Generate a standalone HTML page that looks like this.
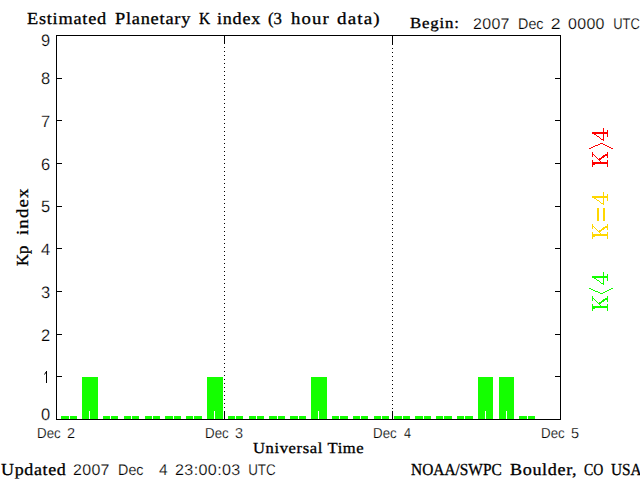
<!DOCTYPE html>
<html><head><meta charset="utf-8"><style>
html,body{margin:0;padding:0;background:#fff;width:640px;height:480px;overflow:hidden}
svg{display:block}
text{text-rendering:geometricPrecision;fill:#000}
.sb{font-family:"Liberation Serif",serif;font-weight:bold}
.sr{font-family:"Liberation Serif",serif;stroke:#000;stroke-width:0.3px}
.ss{font-family:"Liberation Sans",sans-serif;stroke:#fff;stroke-width:0.2px}
</style></head><body>
<svg width="640" height="480" viewBox="0 0 640 480">
<rect x="0" y="0" width="640" height="480" fill="#fff"/>
<g shape-rendering="crispEdges">
<rect x="61" y="416" width="8" height="3" fill="#14ff00"/>
<rect x="70" y="416" width="7" height="3" fill="#14ff00"/>
<rect x="103" y="416" width="7" height="3" fill="#14ff00"/>
<rect x="111" y="416" width="7" height="3" fill="#14ff00"/>
<rect x="124" y="416" width="7" height="3" fill="#14ff00"/>
<rect x="132" y="416" width="7" height="3" fill="#14ff00"/>
<rect x="145" y="416" width="7" height="3" fill="#14ff00"/>
<rect x="153" y="416" width="7" height="3" fill="#14ff00"/>
<rect x="165" y="416" width="8" height="3" fill="#14ff00"/>
<rect x="174" y="416" width="7" height="3" fill="#14ff00"/>
<rect x="186" y="416" width="7" height="3" fill="#14ff00"/>
<rect x="194" y="416" width="8" height="3" fill="#14ff00"/>
<rect x="228" y="416" width="7" height="3" fill="#14ff00"/>
<rect x="236" y="416" width="7" height="3" fill="#14ff00"/>
<rect x="249" y="416" width="7" height="3" fill="#14ff00"/>
<rect x="257" y="416" width="7" height="3" fill="#14ff00"/>
<rect x="269" y="416" width="8" height="3" fill="#14ff00"/>
<rect x="278" y="416" width="7" height="3" fill="#14ff00"/>
<rect x="290" y="416" width="8" height="3" fill="#14ff00"/>
<rect x="299" y="416" width="7" height="3" fill="#14ff00"/>
<rect x="332" y="416" width="7" height="3" fill="#14ff00"/>
<rect x="340" y="416" width="8" height="3" fill="#14ff00"/>
<rect x="353" y="416" width="7" height="3" fill="#14ff00"/>
<rect x="361" y="416" width="7" height="3" fill="#14ff00"/>
<rect x="374" y="416" width="7" height="3" fill="#14ff00"/>
<rect x="382" y="416" width="7" height="3" fill="#14ff00"/>
<rect x="394" y="416" width="8" height="3" fill="#14ff00"/>
<rect x="403" y="416" width="7" height="3" fill="#14ff00"/>
<rect x="415" y="416" width="8" height="3" fill="#14ff00"/>
<rect x="424" y="416" width="7" height="3" fill="#14ff00"/>
<rect x="436" y="416" width="7" height="3" fill="#14ff00"/>
<rect x="444" y="416" width="8" height="3" fill="#14ff00"/>
<rect x="457" y="416" width="7" height="3" fill="#14ff00"/>
<rect x="465" y="416" width="8" height="3" fill="#14ff00"/>
<rect x="519" y="416" width="8" height="3" fill="#14ff00"/>
<rect x="528" y="416" width="7" height="3" fill="#14ff00"/>
<rect x="82" y="377" width="16" height="42" fill="#14ff00"/>
<rect x="89" y="411" width="1" height="8" fill="#fff"/>
<rect x="207" y="377" width="16" height="42" fill="#14ff00"/>
<rect x="214" y="411" width="1" height="8" fill="#fff"/>
<rect x="311" y="377" width="16" height="42" fill="#14ff00"/>
<rect x="318" y="411" width="1" height="8" fill="#fff"/>
<rect x="478" y="377" width="15" height="42" fill="#14ff00"/>
<rect x="485" y="411" width="1" height="8" fill="#fff"/>
<rect x="499" y="377" width="15" height="42" fill="#14ff00"/>
<rect x="506" y="411" width="1" height="8" fill="#fff"/>
<rect x="56" y="35" width="505" height="1" fill="#000"/>
<rect x="56" y="419" width="505" height="1" fill="#000"/>
<rect x="56" y="35" width="1" height="385" fill="#000"/>
<rect x="560" y="35" width="1" height="385" fill="#000"/>
<rect x="56" y="419" width="6" height="1" fill="#000"/>
<rect x="555" y="419" width="6" height="1" fill="#000"/>
<rect x="56" y="376" width="6" height="1" fill="#000"/>
<rect x="555" y="376" width="6" height="1" fill="#000"/>
<rect x="56" y="334" width="6" height="1" fill="#000"/>
<rect x="555" y="334" width="6" height="1" fill="#000"/>
<rect x="56" y="291" width="6" height="1" fill="#000"/>
<rect x="555" y="291" width="6" height="1" fill="#000"/>
<rect x="56" y="248" width="6" height="1" fill="#000"/>
<rect x="555" y="248" width="6" height="1" fill="#000"/>
<rect x="56" y="206" width="6" height="1" fill="#000"/>
<rect x="555" y="206" width="6" height="1" fill="#000"/>
<rect x="56" y="163" width="6" height="1" fill="#000"/>
<rect x="555" y="163" width="6" height="1" fill="#000"/>
<rect x="56" y="120" width="6" height="1" fill="#000"/>
<rect x="555" y="120" width="6" height="1" fill="#000"/>
<rect x="56" y="78" width="6" height="1" fill="#000"/>
<rect x="555" y="78" width="6" height="1" fill="#000"/>
<rect x="56" y="35" width="6" height="1" fill="#000"/>
<rect x="555" y="35" width="6" height="1" fill="#000"/>
<rect x="224" y="35" width="1" height="9" fill="#000"/>
<rect x="224" y="411" width="1" height="8" fill="#000"/>
<rect x="392" y="35" width="1" height="10" fill="#000"/>
<rect x="392" y="411" width="1" height="8" fill="#000"/>
<rect x="224" y="47" width="1" height="1" fill="#000"/>
<rect x="224" y="51" width="1" height="1" fill="#000"/>
<rect x="224" y="55" width="1" height="1" fill="#000"/>
<rect x="224" y="59" width="1" height="1" fill="#000"/>
<rect x="224" y="63" width="1" height="1" fill="#000"/>
<rect x="224" y="67" width="1" height="1" fill="#000"/>
<rect x="224" y="71" width="1" height="1" fill="#000"/>
<rect x="224" y="75" width="1" height="1" fill="#000"/>
<rect x="224" y="79" width="1" height="1" fill="#000"/>
<rect x="224" y="83" width="1" height="1" fill="#000"/>
<rect x="224" y="87" width="1" height="1" fill="#000"/>
<rect x="224" y="91" width="1" height="1" fill="#000"/>
<rect x="224" y="95" width="1" height="1" fill="#000"/>
<rect x="224" y="99" width="1" height="1" fill="#000"/>
<rect x="224" y="103" width="1" height="1" fill="#000"/>
<rect x="224" y="107" width="1" height="1" fill="#000"/>
<rect x="224" y="111" width="1" height="1" fill="#000"/>
<rect x="224" y="115" width="1" height="1" fill="#000"/>
<rect x="224" y="119" width="1" height="1" fill="#000"/>
<rect x="224" y="123" width="1" height="1" fill="#000"/>
<rect x="224" y="127" width="1" height="1" fill="#000"/>
<rect x="224" y="131" width="1" height="1" fill="#000"/>
<rect x="224" y="135" width="1" height="1" fill="#000"/>
<rect x="224" y="139" width="1" height="1" fill="#000"/>
<rect x="224" y="143" width="1" height="1" fill="#000"/>
<rect x="224" y="147" width="1" height="1" fill="#000"/>
<rect x="224" y="151" width="1" height="1" fill="#000"/>
<rect x="224" y="155" width="1" height="1" fill="#000"/>
<rect x="224" y="159" width="1" height="1" fill="#000"/>
<rect x="224" y="163" width="1" height="1" fill="#000"/>
<rect x="224" y="167" width="1" height="1" fill="#000"/>
<rect x="224" y="171" width="1" height="1" fill="#000"/>
<rect x="224" y="175" width="1" height="1" fill="#000"/>
<rect x="224" y="179" width="1" height="1" fill="#000"/>
<rect x="224" y="183" width="1" height="1" fill="#000"/>
<rect x="224" y="187" width="1" height="1" fill="#000"/>
<rect x="224" y="191" width="1" height="1" fill="#000"/>
<rect x="224" y="195" width="1" height="1" fill="#000"/>
<rect x="224" y="199" width="1" height="1" fill="#000"/>
<rect x="224" y="203" width="1" height="1" fill="#000"/>
<rect x="224" y="207" width="1" height="1" fill="#000"/>
<rect x="224" y="211" width="1" height="1" fill="#000"/>
<rect x="224" y="215" width="1" height="1" fill="#000"/>
<rect x="224" y="219" width="1" height="1" fill="#000"/>
<rect x="224" y="223" width="1" height="1" fill="#000"/>
<rect x="224" y="227" width="1" height="1" fill="#000"/>
<rect x="224" y="231" width="1" height="1" fill="#000"/>
<rect x="224" y="235" width="1" height="1" fill="#000"/>
<rect x="224" y="239" width="1" height="1" fill="#000"/>
<rect x="224" y="243" width="1" height="1" fill="#000"/>
<rect x="224" y="247" width="1" height="1" fill="#000"/>
<rect x="224" y="251" width="1" height="1" fill="#000"/>
<rect x="224" y="255" width="1" height="1" fill="#000"/>
<rect x="224" y="259" width="1" height="1" fill="#000"/>
<rect x="224" y="263" width="1" height="1" fill="#000"/>
<rect x="224" y="267" width="1" height="1" fill="#000"/>
<rect x="224" y="271" width="1" height="1" fill="#000"/>
<rect x="224" y="275" width="1" height="1" fill="#000"/>
<rect x="224" y="279" width="1" height="1" fill="#000"/>
<rect x="224" y="283" width="1" height="1" fill="#000"/>
<rect x="224" y="287" width="1" height="1" fill="#000"/>
<rect x="224" y="291" width="1" height="1" fill="#000"/>
<rect x="224" y="295" width="1" height="1" fill="#000"/>
<rect x="224" y="299" width="1" height="1" fill="#000"/>
<rect x="224" y="303" width="1" height="1" fill="#000"/>
<rect x="224" y="307" width="1" height="1" fill="#000"/>
<rect x="224" y="311" width="1" height="1" fill="#000"/>
<rect x="224" y="315" width="1" height="1" fill="#000"/>
<rect x="224" y="319" width="1" height="1" fill="#000"/>
<rect x="224" y="323" width="1" height="1" fill="#000"/>
<rect x="224" y="327" width="1" height="1" fill="#000"/>
<rect x="224" y="331" width="1" height="1" fill="#000"/>
<rect x="224" y="335" width="1" height="1" fill="#000"/>
<rect x="224" y="339" width="1" height="1" fill="#000"/>
<rect x="224" y="343" width="1" height="1" fill="#000"/>
<rect x="224" y="347" width="1" height="1" fill="#000"/>
<rect x="224" y="351" width="1" height="1" fill="#000"/>
<rect x="224" y="355" width="1" height="1" fill="#000"/>
<rect x="224" y="359" width="1" height="1" fill="#000"/>
<rect x="224" y="363" width="1" height="1" fill="#000"/>
<rect x="224" y="367" width="1" height="1" fill="#000"/>
<rect x="224" y="371" width="1" height="1" fill="#000"/>
<rect x="224" y="375" width="1" height="1" fill="#000"/>
<rect x="224" y="379" width="1" height="1" fill="#000"/>
<rect x="224" y="383" width="1" height="1" fill="#000"/>
<rect x="224" y="387" width="1" height="1" fill="#000"/>
<rect x="224" y="391" width="1" height="1" fill="#000"/>
<rect x="224" y="395" width="1" height="1" fill="#000"/>
<rect x="224" y="399" width="1" height="1" fill="#000"/>
<rect x="224" y="403" width="1" height="1" fill="#000"/>
<rect x="224" y="407" width="1" height="1" fill="#000"/>
<rect x="392" y="48" width="1" height="1" fill="#000"/>
<rect x="392" y="52" width="1" height="1" fill="#000"/>
<rect x="392" y="56" width="1" height="1" fill="#000"/>
<rect x="392" y="60" width="1" height="1" fill="#000"/>
<rect x="392" y="64" width="1" height="1" fill="#000"/>
<rect x="392" y="68" width="1" height="1" fill="#000"/>
<rect x="392" y="72" width="1" height="1" fill="#000"/>
<rect x="392" y="76" width="1" height="1" fill="#000"/>
<rect x="392" y="80" width="1" height="1" fill="#000"/>
<rect x="392" y="84" width="1" height="1" fill="#000"/>
<rect x="392" y="88" width="1" height="1" fill="#000"/>
<rect x="392" y="92" width="1" height="1" fill="#000"/>
<rect x="392" y="96" width="1" height="1" fill="#000"/>
<rect x="392" y="100" width="1" height="1" fill="#000"/>
<rect x="392" y="104" width="1" height="1" fill="#000"/>
<rect x="392" y="108" width="1" height="1" fill="#000"/>
<rect x="392" y="112" width="1" height="1" fill="#000"/>
<rect x="392" y="116" width="1" height="1" fill="#000"/>
<rect x="392" y="120" width="1" height="1" fill="#000"/>
<rect x="392" y="124" width="1" height="1" fill="#000"/>
<rect x="392" y="128" width="1" height="1" fill="#000"/>
<rect x="392" y="132" width="1" height="1" fill="#000"/>
<rect x="392" y="136" width="1" height="1" fill="#000"/>
<rect x="392" y="140" width="1" height="1" fill="#000"/>
<rect x="392" y="144" width="1" height="1" fill="#000"/>
<rect x="392" y="148" width="1" height="1" fill="#000"/>
<rect x="392" y="152" width="1" height="1" fill="#000"/>
<rect x="392" y="156" width="1" height="1" fill="#000"/>
<rect x="392" y="160" width="1" height="1" fill="#000"/>
<rect x="392" y="164" width="1" height="1" fill="#000"/>
<rect x="392" y="168" width="1" height="1" fill="#000"/>
<rect x="392" y="172" width="1" height="1" fill="#000"/>
<rect x="392" y="176" width="1" height="1" fill="#000"/>
<rect x="392" y="180" width="1" height="1" fill="#000"/>
<rect x="392" y="184" width="1" height="1" fill="#000"/>
<rect x="392" y="188" width="1" height="1" fill="#000"/>
<rect x="392" y="192" width="1" height="1" fill="#000"/>
<rect x="392" y="196" width="1" height="1" fill="#000"/>
<rect x="392" y="200" width="1" height="1" fill="#000"/>
<rect x="392" y="204" width="1" height="1" fill="#000"/>
<rect x="392" y="208" width="1" height="1" fill="#000"/>
<rect x="392" y="212" width="1" height="1" fill="#000"/>
<rect x="392" y="216" width="1" height="1" fill="#000"/>
<rect x="392" y="220" width="1" height="1" fill="#000"/>
<rect x="392" y="224" width="1" height="1" fill="#000"/>
<rect x="392" y="228" width="1" height="1" fill="#000"/>
<rect x="392" y="232" width="1" height="1" fill="#000"/>
<rect x="392" y="236" width="1" height="1" fill="#000"/>
<rect x="392" y="240" width="1" height="1" fill="#000"/>
<rect x="392" y="244" width="1" height="1" fill="#000"/>
<rect x="392" y="248" width="1" height="1" fill="#000"/>
<rect x="392" y="252" width="1" height="1" fill="#000"/>
<rect x="392" y="256" width="1" height="1" fill="#000"/>
<rect x="392" y="260" width="1" height="1" fill="#000"/>
<rect x="392" y="264" width="1" height="1" fill="#000"/>
<rect x="392" y="268" width="1" height="1" fill="#000"/>
<rect x="392" y="272" width="1" height="1" fill="#000"/>
<rect x="392" y="276" width="1" height="1" fill="#000"/>
<rect x="392" y="280" width="1" height="1" fill="#000"/>
<rect x="392" y="284" width="1" height="1" fill="#000"/>
<rect x="392" y="288" width="1" height="1" fill="#000"/>
<rect x="392" y="292" width="1" height="1" fill="#000"/>
<rect x="392" y="296" width="1" height="1" fill="#000"/>
<rect x="392" y="300" width="1" height="1" fill="#000"/>
<rect x="392" y="304" width="1" height="1" fill="#000"/>
<rect x="392" y="308" width="1" height="1" fill="#000"/>
<rect x="392" y="312" width="1" height="1" fill="#000"/>
<rect x="392" y="316" width="1" height="1" fill="#000"/>
<rect x="392" y="320" width="1" height="1" fill="#000"/>
<rect x="392" y="324" width="1" height="1" fill="#000"/>
<rect x="392" y="328" width="1" height="1" fill="#000"/>
<rect x="392" y="332" width="1" height="1" fill="#000"/>
<rect x="392" y="336" width="1" height="1" fill="#000"/>
<rect x="392" y="340" width="1" height="1" fill="#000"/>
<rect x="392" y="344" width="1" height="1" fill="#000"/>
<rect x="392" y="348" width="1" height="1" fill="#000"/>
<rect x="392" y="352" width="1" height="1" fill="#000"/>
<rect x="392" y="356" width="1" height="1" fill="#000"/>
<rect x="392" y="360" width="1" height="1" fill="#000"/>
<rect x="392" y="364" width="1" height="1" fill="#000"/>
<rect x="392" y="368" width="1" height="1" fill="#000"/>
<rect x="392" y="372" width="1" height="1" fill="#000"/>
<rect x="392" y="376" width="1" height="1" fill="#000"/>
<rect x="392" y="380" width="1" height="1" fill="#000"/>
<rect x="392" y="384" width="1" height="1" fill="#000"/>
<rect x="392" y="388" width="1" height="1" fill="#000"/>
<rect x="392" y="392" width="1" height="1" fill="#000"/>
<rect x="392" y="396" width="1" height="1" fill="#000"/>
<rect x="392" y="400" width="1" height="1" fill="#000"/>
<rect x="392" y="404" width="1" height="1" fill="#000"/>
<rect x="392" y="408" width="1" height="1" fill="#000"/>
<rect x="592" y="132" width="16" height="2" fill="#ff0000"/>
<rect x="607" y="130" width="1" height="7" fill="#ff0000"/>
<rect x="603" y="128" width="1" height="13" fill="#ff0000"/>
<rect x="594" y="134" width="2" height="1" fill="#ff0000"/>
<rect x="596" y="135" width="1" height="1" fill="#ff0000"/>
<rect x="597" y="136" width="2" height="1" fill="#ff0000"/>
<rect x="599" y="137" width="1" height="1" fill="#ff0000"/>
<rect x="600" y="138" width="1" height="1" fill="#ff0000"/>
<rect x="601" y="139" width="2" height="1" fill="#ff0000"/>
<rect x="592" y="196" width="16" height="2" fill="#ffd700"/>
<rect x="607" y="194" width="1" height="7" fill="#ffd700"/>
<rect x="603" y="192" width="1" height="13" fill="#ffd700"/>
<rect x="594" y="198" width="2" height="1" fill="#ffd700"/>
<rect x="596" y="199" width="1" height="1" fill="#ffd700"/>
<rect x="597" y="200" width="2" height="1" fill="#ffd700"/>
<rect x="599" y="201" width="1" height="1" fill="#ffd700"/>
<rect x="600" y="202" width="1" height="1" fill="#ffd700"/>
<rect x="601" y="203" width="2" height="1" fill="#ffd700"/>
<rect x="592" y="276" width="16" height="2" fill="#14ff00"/>
<rect x="607" y="274" width="1" height="7" fill="#14ff00"/>
<rect x="603" y="272" width="1" height="13" fill="#14ff00"/>
<rect x="594" y="278" width="2" height="1" fill="#14ff00"/>
<rect x="596" y="279" width="1" height="1" fill="#14ff00"/>
<rect x="597" y="280" width="2" height="1" fill="#14ff00"/>
<rect x="599" y="281" width="1" height="1" fill="#14ff00"/>
<rect x="600" y="282" width="1" height="1" fill="#14ff00"/>
<rect x="601" y="283" width="2" height="1" fill="#14ff00"/>
<rect x="592" y="162" width="16" height="2" fill="#ff0000"/>
<rect x="592" y="160" width="1" height="7" fill="#ff0000"/>
<rect x="607" y="160" width="1" height="7" fill="#ff0000"/>
<rect x="592" y="152" width="1" height="5" fill="#ff0000"/>
<rect x="607" y="152" width="1" height="6" fill="#ff0000"/>
<rect x="593" y="154" width="1" height="1" fill="#ff0000"/>
<rect x="594" y="155" width="1" height="1" fill="#ff0000"/>
<rect x="595" y="156" width="1" height="1" fill="#ff0000"/>
<rect x="596" y="157" width="1" height="1" fill="#ff0000"/>
<rect x="597" y="158" width="1" height="1" fill="#ff0000"/>
<rect x="598" y="159" width="1" height="1" fill="#ff0000"/>
<rect x="599" y="160" width="1" height="1" fill="#ff0000"/>
<rect x="600" y="161" width="1" height="1" fill="#ff0000"/>
<rect x="605" y="154" width="2" height="1" fill="#ff0000"/>
<rect x="603" y="155" width="4" height="1" fill="#ff0000"/>
<rect x="602" y="156" width="3" height="1" fill="#ff0000"/>
<rect x="601" y="157" width="3" height="1" fill="#ff0000"/>
<rect x="599" y="158" width="3" height="1" fill="#ff0000"/>
<rect x="598" y="159" width="3" height="1" fill="#ff0000"/>
<rect x="593" y="164" width="2" height="1" fill="#ff0000"/>
<rect x="592" y="234" width="16" height="2" fill="#ffd700"/>
<rect x="592" y="232" width="1" height="7" fill="#ffd700"/>
<rect x="607" y="232" width="1" height="7" fill="#ffd700"/>
<rect x="592" y="224" width="1" height="5" fill="#ffd700"/>
<rect x="607" y="224" width="1" height="6" fill="#ffd700"/>
<rect x="593" y="226" width="1" height="1" fill="#ffd700"/>
<rect x="594" y="227" width="1" height="1" fill="#ffd700"/>
<rect x="595" y="228" width="1" height="1" fill="#ffd700"/>
<rect x="596" y="229" width="1" height="1" fill="#ffd700"/>
<rect x="597" y="230" width="1" height="1" fill="#ffd700"/>
<rect x="598" y="231" width="1" height="1" fill="#ffd700"/>
<rect x="599" y="232" width="1" height="1" fill="#ffd700"/>
<rect x="600" y="233" width="1" height="1" fill="#ffd700"/>
<rect x="605" y="226" width="2" height="1" fill="#ffd700"/>
<rect x="603" y="227" width="4" height="1" fill="#ffd700"/>
<rect x="602" y="228" width="3" height="1" fill="#ffd700"/>
<rect x="601" y="229" width="3" height="1" fill="#ffd700"/>
<rect x="599" y="230" width="3" height="1" fill="#ffd700"/>
<rect x="598" y="231" width="3" height="1" fill="#ffd700"/>
<rect x="593" y="236" width="2" height="1" fill="#ffd700"/>
<rect x="592" y="306" width="16" height="2" fill="#14ff00"/>
<rect x="592" y="304" width="1" height="7" fill="#14ff00"/>
<rect x="607" y="304" width="1" height="7" fill="#14ff00"/>
<rect x="592" y="296" width="1" height="5" fill="#14ff00"/>
<rect x="607" y="296" width="1" height="6" fill="#14ff00"/>
<rect x="593" y="298" width="1" height="1" fill="#14ff00"/>
<rect x="594" y="299" width="1" height="1" fill="#14ff00"/>
<rect x="595" y="300" width="1" height="1" fill="#14ff00"/>
<rect x="596" y="301" width="1" height="1" fill="#14ff00"/>
<rect x="597" y="302" width="1" height="1" fill="#14ff00"/>
<rect x="598" y="303" width="1" height="1" fill="#14ff00"/>
<rect x="599" y="304" width="1" height="1" fill="#14ff00"/>
<rect x="600" y="305" width="1" height="1" fill="#14ff00"/>
<rect x="605" y="298" width="2" height="1" fill="#14ff00"/>
<rect x="603" y="299" width="4" height="1" fill="#14ff00"/>
<rect x="602" y="300" width="3" height="1" fill="#14ff00"/>
<rect x="601" y="301" width="3" height="1" fill="#14ff00"/>
<rect x="599" y="302" width="3" height="1" fill="#14ff00"/>
<rect x="598" y="303" width="3" height="1" fill="#14ff00"/>
<rect x="593" y="308" width="2" height="1" fill="#14ff00"/>
<rect x="597" y="208" width="2" height="13" fill="#ffd700"/>
<rect x="603" y="208" width="2" height="13" fill="#ffd700"/>
<rect x="46" y="371" width="1" height="12" fill="#000"/>
<rect x="589" y="288" width="2" height="1" fill="#14ff00"/>
<rect x="589" y="148" width="2" height="1" fill="#ff0000"/>
<rect x="611" y="288" width="2" height="1" fill="#14ff00"/>
<rect x="611" y="148" width="2" height="1" fill="#ff0000"/>
<rect x="591" y="289" width="2" height="1" fill="#14ff00"/>
<rect x="591" y="147" width="2" height="1" fill="#ff0000"/>
<rect x="609" y="289" width="2" height="1" fill="#14ff00"/>
<rect x="609" y="147" width="2" height="1" fill="#ff0000"/>
<rect x="593" y="290" width="2" height="1" fill="#14ff00"/>
<rect x="593" y="146" width="2" height="1" fill="#ff0000"/>
<rect x="607" y="290" width="2" height="1" fill="#14ff00"/>
<rect x="607" y="146" width="2" height="1" fill="#ff0000"/>
<rect x="595" y="291" width="3" height="1" fill="#14ff00"/>
<rect x="595" y="145" width="3" height="1" fill="#ff0000"/>
<rect x="605" y="291" width="2" height="1" fill="#14ff00"/>
<rect x="605" y="145" width="2" height="1" fill="#ff0000"/>
<rect x="598" y="292" width="2" height="1" fill="#14ff00"/>
<rect x="598" y="144" width="2" height="1" fill="#ff0000"/>
<rect x="603" y="292" width="2" height="1" fill="#14ff00"/>
<rect x="603" y="144" width="2" height="1" fill="#ff0000"/>
<rect x="600" y="293" width="3" height="1" fill="#14ff00"/>
<rect x="600" y="143" width="3" height="1" fill="#ff0000"/>
</g>
<g>
<line x1="44.5" y1="374.5" x2="46.2" y2="371.8" stroke="#000" stroke-width="1"/>
</g>
<text class="sr" transform="translate(27.00,24) scale(1.090,1)" font-size="16.8" textLength="72.62" lengthAdjust="spacing" xml:space="preserve">Estimated</text>
<text class="sr" transform="translate(115.00,24) scale(1.094,1)" font-size="16.8" textLength="68.85" lengthAdjust="spacing" xml:space="preserve">Planetary</text>
<text class="sr" x="199.0" y="24" font-size="16.8" textLength="11.11" lengthAdjust="spacingAndGlyphs" xml:space="preserve">K</text>
<text class="sr" transform="translate(217.00,24) scale(1.081,1)" font-size="16.8" textLength="40.08" lengthAdjust="spacing" xml:space="preserve">index</text>
<text class="sr" transform="translate(268.00,24) scale(1.000,1)" font-size="16.8" textLength="13.98" lengthAdjust="spacing" xml:space="preserve">(3</text>
<text class="sr" transform="translate(291.00,24) scale(1.113,1)" font-size="16.8" textLength="33.91" lengthAdjust="spacing" xml:space="preserve">hour</text>
<text class="sr" transform="translate(337.00,24) scale(1.136,1)" font-size="16.8" textLength="37.51" lengthAdjust="spacing" xml:space="preserve">data)</text>
<text class="sr" transform="translate(410.00,28) scale(1.100,1)" font-size="15.3" textLength="44.44" lengthAdjust="spacing" xml:space="preserve">Begin:</text>
<text class="ss" transform="translate(472.97,29) scale(1.030,1)" font-size="15.5" textLength="35.44" lengthAdjust="spacing" xml:space="preserve">2007</text>
<text class="ss" x="518.08" y="29" font-size="15.5" textLength="25.46" lengthAdjust="spacingAndGlyphs" xml:space="preserve">Dec</text>
<text class="ss" x="550.86" y="29" font-size="15.5" textLength="9.86" lengthAdjust="spacingAndGlyphs" xml:space="preserve">2</text>
<text class="ss" transform="translate(567.97,29) scale(1.030,1)" font-size="15.5" textLength="35.44" lengthAdjust="spacing" xml:space="preserve">0000</text>
<text class="ss" x="613.17" y="29" font-size="15.5" textLength="26.55" lengthAdjust="spacingAndGlyphs" xml:space="preserve">UTC</text>
<text class="ss" x="37.08" y="438" font-size="14.5" textLength="23.65" lengthAdjust="spacingAndGlyphs" xml:space="preserve">Dec</text>
<text class="ss" x="67.0" y="438" font-size="14.5" textLength="8.08" lengthAdjust="spacingAndGlyphs" xml:space="preserve">2</text>
<text class="ss" x="205.08" y="438" font-size="14.5" textLength="23.65" lengthAdjust="spacingAndGlyphs" xml:space="preserve">Dec</text>
<text class="ss" x="235.0" y="438" font-size="14.5" textLength="8.08" lengthAdjust="spacingAndGlyphs" xml:space="preserve">3</text>
<text class="ss" x="373.08" y="438" font-size="14.5" textLength="23.65" lengthAdjust="spacingAndGlyphs" xml:space="preserve">Dec</text>
<text class="ss" x="404.0" y="438" font-size="14.5" textLength="7.07" lengthAdjust="spacingAndGlyphs" xml:space="preserve">4</text>
<text class="ss" x="541.08" y="438" font-size="14.5" textLength="23.65" lengthAdjust="spacingAndGlyphs" xml:space="preserve">Dec</text>
<text class="ss" x="571.0" y="438" font-size="14.5" textLength="8.08" lengthAdjust="spacingAndGlyphs" xml:space="preserve">5</text>
<text class="sr" transform="translate(253.00,453) scale(1.084,1)" font-size="15.3" textLength="102.17" lengthAdjust="spacing" xml:space="preserve">Universal Time</text>
<text class="sr" transform="translate(1.00,475) scale(1.070,1)" font-size="16.8" textLength="60.61" lengthAdjust="spacing" xml:space="preserve">Updated</text>
<text class="ss" transform="translate(72.97,475) scale(1.030,1)" font-size="15.5" textLength="35.44" lengthAdjust="spacing" xml:space="preserve">2007</text>
<text class="ss" x="118.08" y="475" font-size="15.5" textLength="25.46" lengthAdjust="spacingAndGlyphs" xml:space="preserve">Dec</text>
<text class="ss" x="159.0" y="475" font-size="15.5" textLength="8.62" lengthAdjust="spacingAndGlyphs" xml:space="preserve">4</text>
<text class="ss" transform="translate(174.96,475) scale(1.042,1)" font-size="15.5" textLength="62.73" lengthAdjust="spacing" xml:space="preserve">23:00:03</text>
<text class="ss" x="248.13" y="475" font-size="15.5" textLength="27.61" lengthAdjust="spacingAndGlyphs" xml:space="preserve">UTC</text>
<text class="sr" x="411.0" y="475" font-size="16.8" textLength="90.77" lengthAdjust="spacingAndGlyphs" xml:space="preserve">NOAA/SWPC</text>
<text class="sr" transform="translate(510.00,475) scale(1.079,1)" font-size="16.8" textLength="61.76" lengthAdjust="spacing" xml:space="preserve">Boulder,</text>
<text class="sr" x="584.0" y="475" font-size="16.8" textLength="19.26" lengthAdjust="spacingAndGlyphs" xml:space="preserve">CO</text>
<text class="sr" x="611.0" y="475" font-size="16.8" textLength="30.62" lengthAdjust="spacingAndGlyphs" xml:space="preserve">USA</text>
<text class="ss" x="50.3" y="420" font-size="16.5" text-anchor="end">0</text>
<text class="ss" x="50.3" y="341" font-size="16.5" text-anchor="end">2</text>
<text class="ss" x="50.3" y="298" font-size="16.5" text-anchor="end">3</text>
<text class="ss" x="50.3" y="255" font-size="16.5" text-anchor="end">4</text>
<text class="ss" x="50.3" y="212" font-size="16.5" text-anchor="end">5</text>
<text class="ss" x="50.3" y="170" font-size="16.5" text-anchor="end">6</text>
<text class="ss" x="50.3" y="127" font-size="16.5" text-anchor="end">7</text>
<text class="ss" x="50.3" y="84" font-size="16.5" text-anchor="end">8</text>
<text class="ss" x="50.3" y="46" font-size="16.5" text-anchor="end">9</text>
<g transform="translate(28,266) rotate(-90)"><text class="sr" transform="translate(0.00,0) scale(1.000,1)" font-size="16.8" textLength="20.52" lengthAdjust="spacing" xml:space="preserve">Kp</text><text class="sr" transform="translate(31.00,0) scale(1.122,1)" font-size="16.8" textLength="41.32" lengthAdjust="spacing" xml:space="preserve">index</text></g>
</svg>
</body></html>
